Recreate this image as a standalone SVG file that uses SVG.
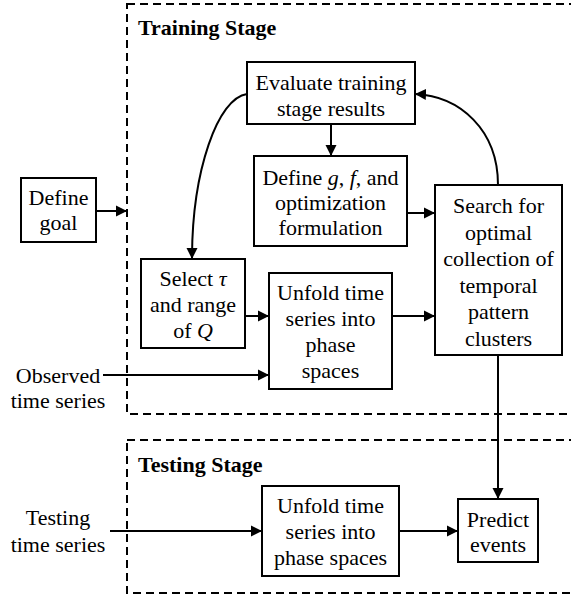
<svg xmlns="http://www.w3.org/2000/svg" width="571" height="596" viewBox="0 0 571 596">
<style>
  .box { fill: #fff; stroke: #000; stroke-width: 2; }
  .stage { fill: none; stroke: #000; stroke-width: 2; stroke-dasharray: 8 5; }
  text { font-family: 'Liberation Serif', 'DejaVu Serif', 'Times New Roman', Times, serif; font-size: 22px; fill: #000; }
  .t { text-anchor: middle; }
  .title { font-weight: bold; }
  .c { fill: none; stroke: #000; stroke-width: 2; marker-end: url(#ah); }
  .i { font-style: italic; }
</style>
<defs>
  <marker id="ah" markerUnits="userSpaceOnUse" markerWidth="12" markerHeight="12" refX="11" refY="6" orient="auto">
    <path d="M0,0.5 L11,6 L0,11.5 z" fill="#000"/>
  </marker>
</defs>
<rect width="571" height="596" fill="#fff"/>

<g id="training-stage">
  <rect class="stage" x="127" y="4" width="470" height="410"/>
  <text class="title" x="138" y="35">Training Stage</text>
</g>
<g id="testing-stage">
  <rect class="stage" x="127" y="440" width="470" height="153"/>
  <text class="title" x="138" y="472">Testing Stage</text>
</g>

<g id="connectors">
  <line class="c" x1="96" y1="211" x2="127" y2="211"/>
  <line class="c" x1="331" y1="124" x2="331" y2="156"/>
  <line class="c" x1="407" y1="213" x2="435" y2="213"/>
  <line class="c" x1="245" y1="316" x2="269" y2="316"/>
  <line class="c" x1="392" y1="316" x2="435" y2="316"/>
  <line class="c" x1="103" y1="375" x2="269" y2="375"/>
  <line class="c" x1="498" y1="355" x2="498" y2="499"/>
  <line class="c" x1="110" y1="531" x2="262" y2="531"/>
  <line class="c" x1="399" y1="531" x2="458" y2="531"/>
  <path class="c" d="M247,94 C218,98 192,170 192,259"/>
  <path class="c" d="M498,185 C498,130 460,96 415,94"/>
</g>

<g id="evaluate">
  <rect class="box" x="247" y="62" width="168" height="62"/>
  <text class="t" x="331" y="90">Evaluate training</text>
  <text class="t" x="331" y="116">stage results</text>
</g>
<g id="define-gf">
  <rect class="box" x="254" y="156" width="153" height="90"/>
  <text class="t" x="330.5" y="185">Define <tspan class="i">g</tspan>, <tspan class="i">f</tspan>, and</text>
  <text class="t" x="330.5" y="210">optimization</text>
  <text class="t" x="330.5" y="235">formulation</text>
</g>
<g id="search">
  <rect class="box" x="435" y="185" width="127" height="170"/>
  <text class="t" x="498.5" y="213">Search for</text>
  <text class="t" x="498.5" y="239.5">optimal</text>
  <text class="t" x="498.5" y="266">collection of</text>
  <text class="t" x="498.5" y="292.5">temporal</text>
  <text class="t" x="498.5" y="319">pattern</text>
  <text class="t" x="498.5" y="345.5">clusters</text>
</g>
<g id="define-goal">
  <rect class="box" x="21" y="178" width="75" height="64"/>
  <text class="t" x="58.5" y="205">Define</text>
  <text class="t" x="58.5" y="230">goal</text>
</g>
<g id="select">
  <rect class="box" x="141" y="259" width="104" height="89"/>
  <text class="t" x="193" y="286">Select <tspan class="i">τ</tspan></text>
  <text class="t" x="193" y="312">and range</text>
  <text class="t" x="193" y="338">of <tspan class="i">Q</tspan></text>
</g>
<g id="unfold-train">
  <rect class="box" x="269" y="273" width="123" height="116"/>
  <text class="t" x="330.5" y="300">Unfold time</text>
  <text class="t" x="330.5" y="326">series into</text>
  <text class="t" x="330.5" y="352">phase</text>
  <text class="t" x="330.5" y="378">spaces</text>
</g>
<g id="observed">
  <text class="t" x="58" y="383">Observed</text>
  <text class="t" x="58" y="408">time series</text>
</g>
<g id="testing-input">
  <text class="t" x="58" y="525">Testing</text>
  <text class="t" x="58" y="552">time series</text>
</g>
<g id="unfold-test">
  <rect class="box" x="262" y="486" width="137" height="90"/>
  <text class="t" x="330.5" y="513">Unfold time</text>
  <text class="t" x="330.5" y="539">series into</text>
  <text class="t" x="330.5" y="565">phase spaces</text>
</g>
<g id="predict">
  <rect class="box" x="458" y="499" width="80" height="63"/>
  <text class="t" x="498" y="527">Predict</text>
  <text class="t" x="498" y="552">events</text>
</g>
</svg>
